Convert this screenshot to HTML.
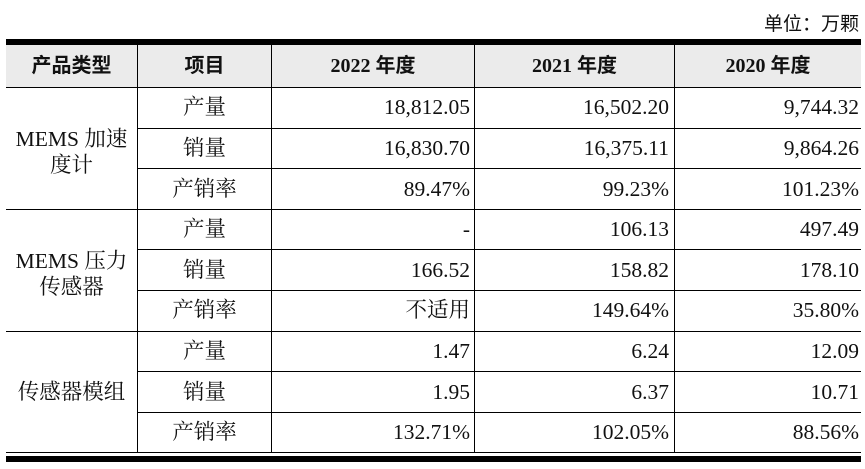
<!DOCTYPE html>
<html><head><meta charset="utf-8"><style>
body{margin:0;width:865px;height:469px;background:#fff;position:relative;overflow:hidden;font-family:"Liberation Serif","Noto Serif CJK SC","Noto Sans CJK SC",serif;color:#111}
.a{position:absolute}
.h{background:#000}
.t{position:absolute;font-size:21.5px;line-height:22px;white-space:nowrap}
.c{text-align:center}
.r{text-align:right}
.b{font-weight:bold;font-family:"Liberation Serif","Noto Sans CJK SC",sans-serif;font-size:20px}
</style></head><body>
<div class="t" style="right:6px;top:12px;font-family:'Noto Sans CJK SC',sans-serif;font-size:19px">单位：万颗</div>
<div class="a" style="left:6px;top:45px;width:855px;height:42px;background:#ebebeb"></div>
<div class="a h" style="left:6px;top:39px;width:855px;height:6px"></div>
<div class="a h" style="left:6px;top:452px;width:855px;height:1px"></div>
<div class="a h" style="left:6px;top:456px;width:855px;height:6px"></div>
<div class="a h" style="left:6px;top:87px;width:855px;height:1px"></div>
<div class="a h" style="left:137px;top:45px;width:1px;height:408px"></div>
<div class="a h" style="left:271px;top:45px;width:1px;height:408px"></div>
<div class="a h" style="left:474px;top:45px;width:1px;height:408px"></div>
<div class="a h" style="left:674px;top:45px;width:1px;height:408px"></div>
<div id="lines"></div>
<script>
var L=document.getElementById('lines'),h='';
var rows=[["产量","18,812.05","16,502.20","9,744.32"],["销量","16,830.70","16,375.11","9,864.26"],["产销率","89.47%","99.23%","101.23%"],
["产量","-","106.13","497.49"],["销量","166.52","158.82","178.10"],["产销率","不适用","149.64%","35.80%"],
["产量","1.47","6.24","12.09"],["销量","1.95","6.37","10.71"],["产销率","132.71%","102.05%","88.56%"]];
var rh=40.6;
for(var i=0;i<9;i++){var y=87+i*rh;
 if(i>0){var x0=(i%3==0)?6:137;h+='<div class="a h" style="left:'+x0+'px;top:'+Math.round(y)+'px;width:'+(861-x0)+'px;height:1px"></div>';}
 var ty=Math.round(y+rh/2-11),r=rows[i];
 h+='<div class="t c" style="left:138px;width:133px;top:'+ty+'px">'+r[0]+'</div>';
 h+='<div class="t r" style="left:275px;width:195px;top:'+ty+'px">'+r[1]+'</div>';
 h+='<div class="t r" style="left:477px;width:192px;top:'+ty+'px">'+r[2]+'</div>';
 h+='<div class="t r" style="left:677px;width:182px;top:'+ty+'px">'+r[3]+'</div>';
}
L.innerHTML=h;
</script>
<div class="t c b" style="left:6px;width:131px;top:55px">产品类型</div>
<div class="t c b" style="left:138px;width:133px;top:55px">项目</div>
<div class="t c b" style="left:272px;width:202px;top:55px">2022 年度</div>
<div class="t c b" style="left:475px;width:199px;top:55px">2021 年度</div>
<div class="t c b" style="left:675px;width:186px;top:55px">2020 年度</div>
<div class="t c" style="left:6px;width:131px;top:126px;line-height:26px">MEMS 加速<br>度计</div>
<div class="t c" style="left:6px;width:131px;top:248px;line-height:26px">MEMS 压力<br>传感器</div>
<div class="t c" style="left:6px;width:131px;top:381px">传感器模组</div>
</body></html>
